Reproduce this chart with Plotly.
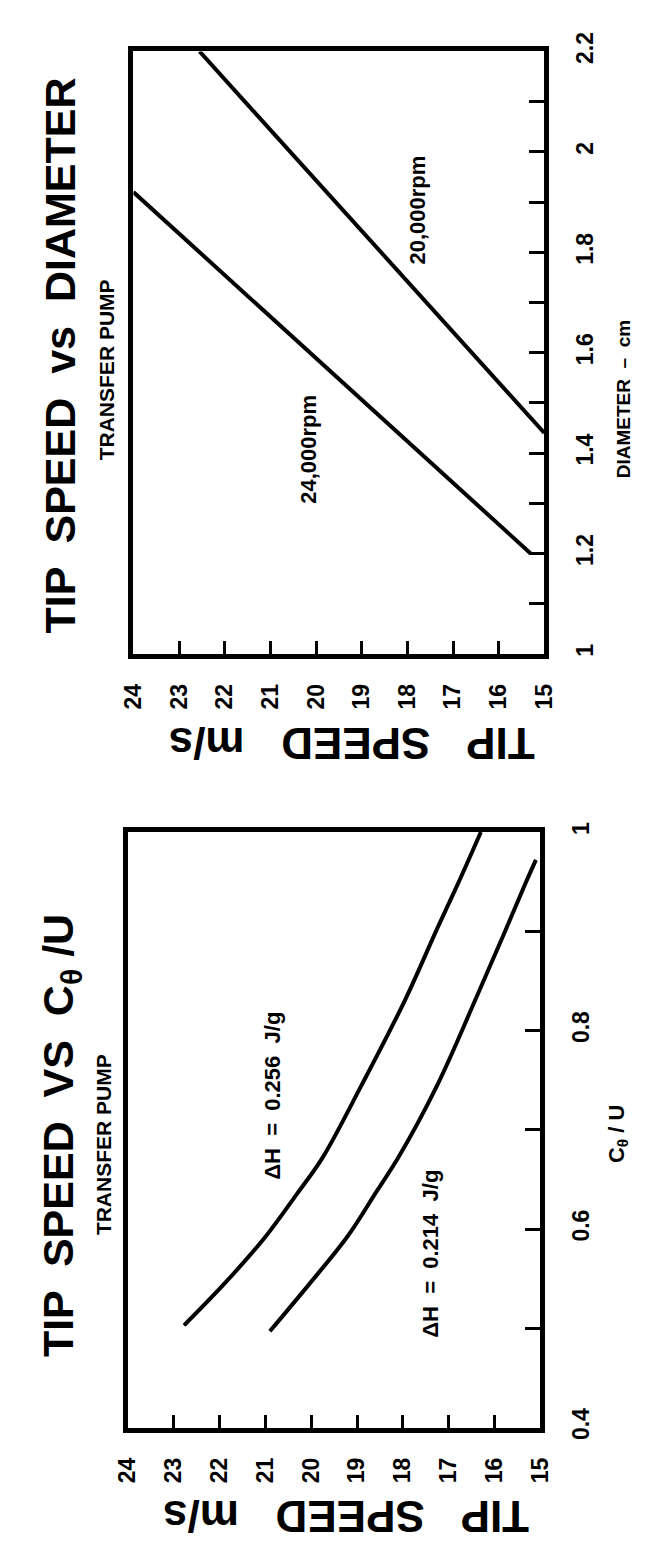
import plotly.graph_objects as go

W, H = 653, 1554
FONT = "Liberation Sans, Arial, sans-serif"

# ---- top chart: tip speed vs diameter ----
tip_ticks = [15, 16, 17, 18, 19, 20, 21, 22, 23, 24]
tip_labels = ["15", "16", "17", "18", "19", "20", "21", "22", "23", "24"]
diam_ticks = [1.0, 1.1, 1.2, 1.3, 1.4, 1.5, 1.6, 1.7, 1.8, 1.9, 2.0, 2.1, 2.2]
diam_labels = ["1", "", "1.2", "", "1.4", "", "1.6", "", "1.8", "", "2", "", "2.2"]

rpm24_diam = [1.20, 1.92]
rpm24_tip = [15.3, 24.0]
rpm20_diam = [1.44, 2.20]
rpm20_tip = [15.0, 22.55]

# ---- bottom chart: tip speed vs C_theta/U ----
cu_ticks = [0.4, 0.5, 0.6, 0.7, 0.8, 0.9, 1.0]
cu_labels = ["0.4", "", "0.6", "", "0.8", "", "1"]

dh256_cu = [0.503, 0.547, 0.592, 0.636, 0.672, 0.745, 0.831, 0.903, 0.953, 1.0]
dh256_tip = [22.77, 21.85, 21.0, 20.3, 19.75, 18.9, 17.95, 17.25, 16.75, 16.3]
dh214_cu = [0.497, 0.544, 0.593, 0.636, 0.672, 0.745, 0.831, 0.897, 0.946, 0.972]
dh214_tip = [20.9, 20.05, 19.2, 18.6, 18.1, 17.25, 16.42, 15.8, 15.35, 15.1]

line_style = dict(color="black", width=4)
curve_style = dict(color="black", width=4, shape="spline", smoothing=1.0)

fig = go.Figure()
fig.add_trace(go.Scatter(x=rpm24_tip, y=rpm24_diam, mode="lines", line=line_style, xaxis="x", yaxis="y"))
fig.add_trace(go.Scatter(x=rpm20_tip, y=rpm20_diam, mode="lines", line=line_style, xaxis="x", yaxis="y"))
fig.add_trace(go.Scatter(x=dh256_tip, y=dh256_cu, mode="lines", line=curve_style, xaxis="x2", yaxis="y2"))
fig.add_trace(go.Scatter(x=dh214_tip, y=dh214_cu, mode="lines", line=curve_style, xaxis="x2", yaxis="y2"))


def px_x(v):
    return v / W


def px_y(v):
    return 1 - v / H


tick_font = dict(family=FONT, size=23, color="black", weight="bold")
common = dict(showline=True, linewidth=5, linecolor="black", mirror=True, showgrid=False,
              zeroline=False, ticks="inside", tickwidth=3, tickcolor="black",
              tickangle=-90, tickfont=tick_font, ticklabelstandoff=16)

fig.update_layout(
    width=W, height=H, autosize=False,
    margin=dict(l=0, r=0, t=0, b=0),
    paper_bgcolor="white", plot_bgcolor="white",
    showlegend=False,
    xaxis=dict(domain=[px_x(116), px_x(544)], range=[24, 15], anchor="y",
               tickvals=tip_ticks, ticktext=tip_labels, ticklen=13, **common),
    yaxis=dict(domain=[px_y(640), px_y(25)], range=[1, 2.2], anchor="x", side="right",
               tickvals=diam_ticks, ticktext=diam_labels, ticklen=15, **common),
    xaxis2=dict(domain=[px_x(110), px_x(540)], range=[24, 15], anchor="y2",
                tickvals=tip_ticks, ticktext=tip_labels, ticklen=13, **common),
    yaxis2=dict(domain=[px_y(1430), px_y(822)], range=[0.4, 1.0], anchor="x2", side="right",
                tickvals=cu_ticks, ticktext=cu_labels, ticklen=15, **common),
)


def note(text, x, y, size, angle=-90, xref="paper", yref="paper"):
    fig.add_annotation(text=text, x=x, y=y, xref=xref, yref=yref, showarrow=False,
                       textangle=angle, xanchor="center", yanchor="middle",
                       font=dict(family=FONT, size=size, color="black", weight="bold"))


# top chart texts
note("TIP  SPEED  vs  DIAMETER", px_x(40), px_y(335), 43)
note("TRANSFER PUMP", px_x(88), px_y(350), 21)
note("TIP   SPEED   m/s", px_x(343), px_y(731), 44, angle=180)
note("DIAMETER  –  cm", px_x(626), px_y(380), 19)
note("20,000rpm", 17.78, 1.884, 22, xref="x", yref="y")
note("24,000rpm", 20.18, 1.408, 22, xref="x", yref="y")

# bottom chart texts
note("TIP  SPEED  VS  C<sub>θ</sub> /U", px_x(40), px_y(1132), 43)
note("TRANSFER PUMP", px_x(85), px_y(1141), 21)
note("TIP   SPEED   m/s", px_x(338), px_y(1521), 44, angle=180)
note("C<sub>θ</sub> / U", px_x(620), px_y(1130), 22)
note("ΔH  =  0.256  J/g", 20.86, 0.734, 22, xref="x2", yref="y2")
note("ΔH  =  0.214  J/g", 17.39, 0.575, 22, xref="x2", yref="y2")

fig.write_html("out.html")
